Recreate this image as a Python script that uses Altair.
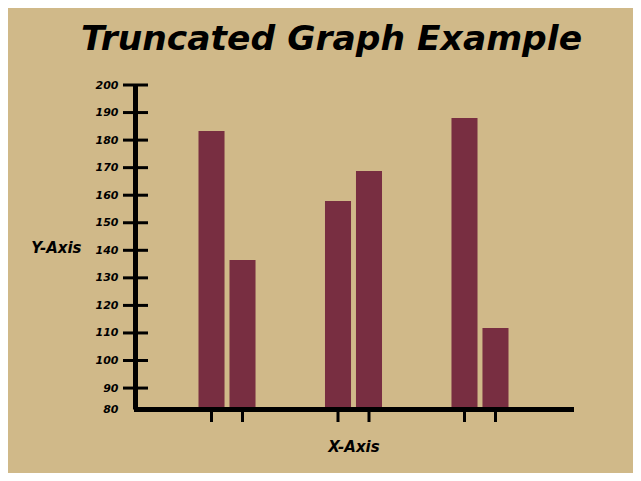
import altair as alt
import pandas as pd

# ---- data ----
groups = ["A", "A", "B", "B", "C", "C"]
members = ["1", "2", "1", "2", "1", "2"]
values = [183.3, 136.5, 157.9, 168.8, 188.0, 111.8]
y_tick_values = [90, 100, 110, 120, 130, 140, 150, 160, 170, 180, 190, 200]
y_label_values = [82.4] + y_tick_values  # bottom label reads "80" (truncated axis)

BG = "#D0B989"
BAR = "#782E41"
FONT = "DejaVu Sans"

bars_df = pd.DataFrame({"group": groups, "member": members, "value": values})
ticks_df = pd.DataFrame({"value": y_tick_values})

y_scale = alt.Scale(domain=[82.4, 200], zero=False, nice=False, clamp=True)
x_scale = alt.Scale(paddingInner=0.51, paddingOuter=0.4745)
xo_scale = alt.Scale(paddingInner=0.16, paddingOuter=0.08)

y_axis = alt.Axis(
    title="Y-Axis", values=y_label_values, grid=False, offset=1,
    labelExpr="datum.value < 85 ? '80' : datum.label",
    tickSize=12, tickColor="transparent", labelPadding=5,
    labelFont=FONT, labelFontSize=11, labelFontWeight="bold",
    labelFontStyle="italic", labelColor="black",
    domainColor="black", domainWidth=5,
    titleFont=FONT, titleFontSize=15, titleFontWeight="bold",
    titleFontStyle="italic", titleColor="black",
    titleAngle=0, titleAlign="right", titleBaseline="middle",
    titleX=-54, titleY=162, zindex=2)

x_axis = alt.Axis(
    title="X-Axis", labels=False, ticks=False, grid=False,
    domainColor="black", domainWidth=5, domainCap="square",
    titleFont=FONT, titleFontSize=15, titleFontWeight="bold",
    titleFontStyle="italic", titleColor="black", titlePadding=30,
    zindex=2)

bars = alt.Chart(bars_df).mark_bar(color=BAR).encode(
    x=alt.X("group:N", scale=x_scale, axis=x_axis),
    xOffset=alt.XOffset("member:N", scale=xo_scale),
    y=alt.Y("value:Q", scale=y_scale, axis=y_axis),
)

y_ticks = alt.Chart(ticks_df).mark_rule(color="black", strokeWidth=3).encode(
    y=alt.Y("value:Q", scale=y_scale, axis=y_axis),
    x=alt.value(-13),
    x2=alt.value(12),
)

x_ticks = alt.Chart(bars_df).mark_rule(color="black", strokeWidth=3).encode(
    x=alt.X("group:N", scale=x_scale, axis=x_axis),
    xOffset=alt.XOffset("member:N", scale=xo_scale),
    y=alt.value(326),
    y2=alt.value(337),
)

chart = alt.layer(bars, y_ticks, x_ticks).properties(
    width=435,
    height=324,
    background=BG,
    padding={"left": 128, "top": 77, "right": 62, "bottom": 64},
    autosize=alt.AutoSizeParams(type="none"),
    title=alt.TitleParams(
        "Truncated Graph Example", anchor="middle", dx=-22,
        font=FONT, fontSize=34.5, fontWeight="bold", fontStyle="italic",
        color="black", baseline="alphabetic", offset=-5),
).configure_view(stroke="transparent")

chart.save("out.html", embed_options={"renderer": "svg", "actions": False})
